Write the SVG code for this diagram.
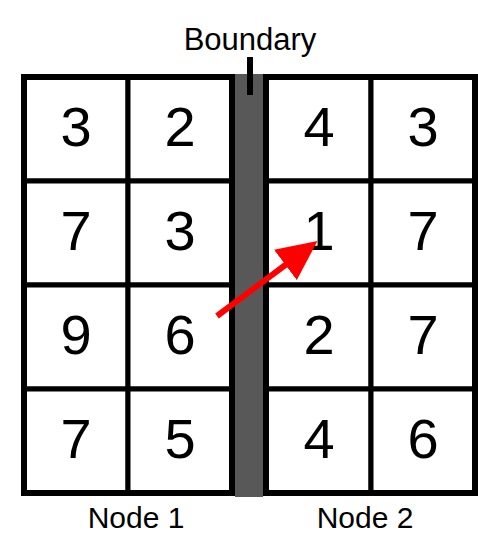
<svg xmlns="http://www.w3.org/2000/svg" width="478" height="535" viewBox="0 0 478 535">
<style>
.cell{fill:#fff;stroke:#000;stroke-width:5}
.outer{fill:none;stroke:#000;stroke-width:6}
.num{font-family:"Liberation Sans",Arial,sans-serif;font-size:56px;text-anchor:middle;fill:#000}
.lbl{font-family:"Liberation Sans",Arial,sans-serif;font-size:30px;text-anchor:middle;fill:#000}
</style>
<defs>
<marker id="ah" markerUnits="userSpaceOnUse" markerWidth="40" markerHeight="38" viewBox="0 0 39 37" refX="8" refY="18.5" orient="auto">
<path d="M0,0 L39,18.5 L0,37 Z" fill="#f00"/>
</marker>
</defs>
<rect width="478" height="535" fill="#fff"/>
<g id="boundary">
<rect x="235" y="74" width="28" height="423" fill="#585858"/>
<rect x="247" y="57" width="6" height="38" fill="#000"/>
<text class="lbl" x="250" y="50" style="font-size:31px">Boundary</text>
</g>
<g id="node1">
<g id="n1r1c1"><rect class="cell" x="24" y="77" width="104" height="104"/><text class="num" x="76" y="146">3</text></g>
<g id="n1r1c2"><rect class="cell" x="128" y="77" width="104" height="104"/><text class="num" x="180" y="146">2</text></g>
<g id="n1r2c1"><rect class="cell" x="24" y="181" width="104" height="104"/><text class="num" x="76" y="250">7</text></g>
<g id="n1r2c2"><rect class="cell" x="128" y="181" width="104" height="104"/><text class="num" x="180" y="250">3</text></g>
<g id="n1r3c1"><rect class="cell" x="24" y="285" width="104" height="104"/><text class="num" x="76" y="354">9</text></g>
<g id="n1r3c2"><rect class="cell" x="128" y="285" width="104" height="104"/><text class="num" x="180" y="354">6</text></g>
<g id="n1r4c1"><rect class="cell" x="24" y="389" width="104" height="104"/><text class="num" x="76" y="458">7</text></g>
<g id="n1r4c2"><rect class="cell" x="128" y="389" width="104" height="104"/><text class="num" x="180" y="458">5</text></g>
<rect class="outer" x="24" y="77" width="208" height="416"/>
<text class="lbl" x="136" y="528">Node 1</text>
</g>
<g id="node2">
<g id="n2r1c1"><rect class="cell" x="266" y="77" width="105" height="104"/><text class="num" x="319" y="146">4</text></g>
<g id="n2r1c2"><rect class="cell" x="371" y="77" width="104" height="104"/><text class="num" x="423" y="146">3</text></g>
<g id="n2r2c1"><rect class="cell" x="266" y="181" width="105" height="104"/><text class="num" x="319" y="250">1</text></g>
<g id="n2r2c2"><rect class="cell" x="371" y="181" width="104" height="104"/><text class="num" x="423" y="250">7</text></g>
<g id="n2r3c1"><rect class="cell" x="266" y="285" width="105" height="104"/><text class="num" x="319" y="354">2</text></g>
<g id="n2r3c2"><rect class="cell" x="371" y="285" width="104" height="104"/><text class="num" x="423" y="354">7</text></g>
<g id="n2r4c1"><rect class="cell" x="266" y="389" width="105" height="104"/><text class="num" x="319" y="458">4</text></g>
<g id="n2r4c2"><rect class="cell" x="371" y="389" width="104" height="104"/><text class="num" x="423" y="458">6</text></g>
<rect class="outer" x="266" y="77" width="209" height="416"/>
<text class="lbl" x="365" y="528">Node 2</text>
</g>
<g id="connectors">
<line x1="217" y1="316" x2="292" y2="260" stroke="#f00" stroke-width="6" marker-end="url(#ah)"/>
</g>
</svg>
